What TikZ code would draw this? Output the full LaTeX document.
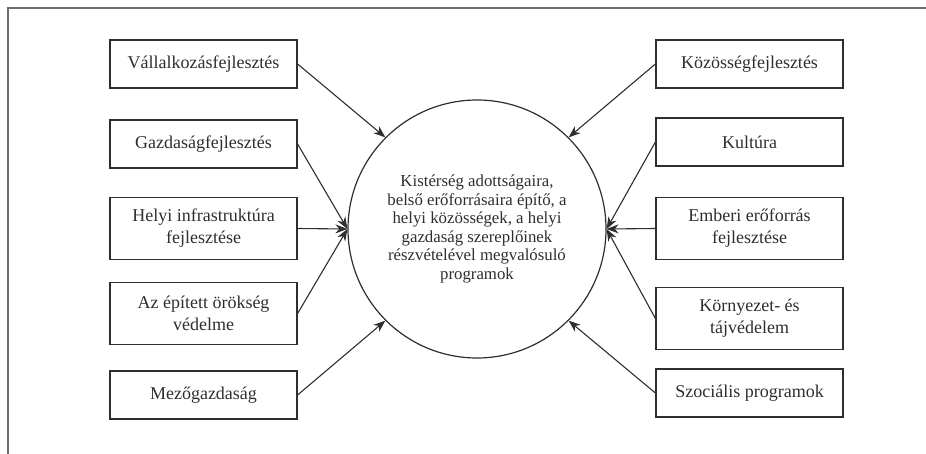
\documentclass[tikz,border=0pt]{standalone}
\usepackage{fontspec}
\setmainfont{Liberation Serif}
\usetikzlibrary{arrows.meta}
\definecolor{ink}{HTML}{2E2E2E}
\definecolor{frame}{HTML}{6E6E6E}
\begin{document}
\begin{tikzpicture}[x=1pt,y=-1pt,
  box/.style={draw=ink, line width=1.2pt, minimum width=187pt, minimum height=48pt, align=center,
    font=\rmfamily\fontsize{18}{22}\selectfont, text=ink, inner sep=0pt},
  tall/.style={minimum height=62pt},
  arr/.style={draw=ink, line width=1.1pt, -{Stealth[length=12pt,width=9pt]}}]
\useasboundingbox (0,0) rectangle (926,454);
\draw[frame, line width=1.1pt] (8,454) -- (8,8) -- (926,8);

\node[circle, draw=ink, line width=1.2pt, minimum size=258pt, inner sep=0pt, align=center,
  text=ink, font=\rmfamily\fontsize{16.8}{18.6}\selectfont] (c) at (477,229)
  {Kistérség adottságaira,\\belső erőforrásaira építő, a\\helyi közösségek, a helyi\\gazdaság szereplőinek\\részvételével megvalósuló\\programok};

\node[box] (l1) at (203.5,64) {Vállalkozásfejlesztés};
\node[box] (l2) at (203.5,144) {Gazdaságfejlesztés};
\node[box, tall] (l3) at (203.5,228.5) {Helyi infrastruktúra\\fejlesztése};
\node[box, tall] (l4) at (203.5,313.5) {Az épített örökség\\védelme};
\node[box] (l5) at (203.5,395) {Mezőgazdaság};

\node[box] (r1) at (749.5,64) {Közösségfejlesztés};
\node[box] (r2) at (749.5,142) {Kultúra};
\node[box, tall] (r3) at (749.5,228.5) {Emberi erőforrás\\fejlesztése};
\node[box, tall] (r4) at (749.5,318.5) {Környezet- és\\tájvédelem};
\node[box] (r5) at (749.5,393) {Szociális programok};

\draw[arr] (l1.east) -- (c.135);
\draw[arr] (l2.east) -- (c.west);
\draw[arr] (l3.east) -- (c.west);
\draw[arr] (l4.east) -- (c.west);
\draw[arr] (l5.east) -- (c.225);
\draw[arr] (r1.west) -- (c.45);
\draw[arr] (r2.west) -- (c.east);
\draw[arr] (r3.west) -- (c.east);
\draw[arr] (r4.west) -- (c.east);
\draw[arr] (r5.west) -- (c.-45);
\end{tikzpicture}
\end{document}
